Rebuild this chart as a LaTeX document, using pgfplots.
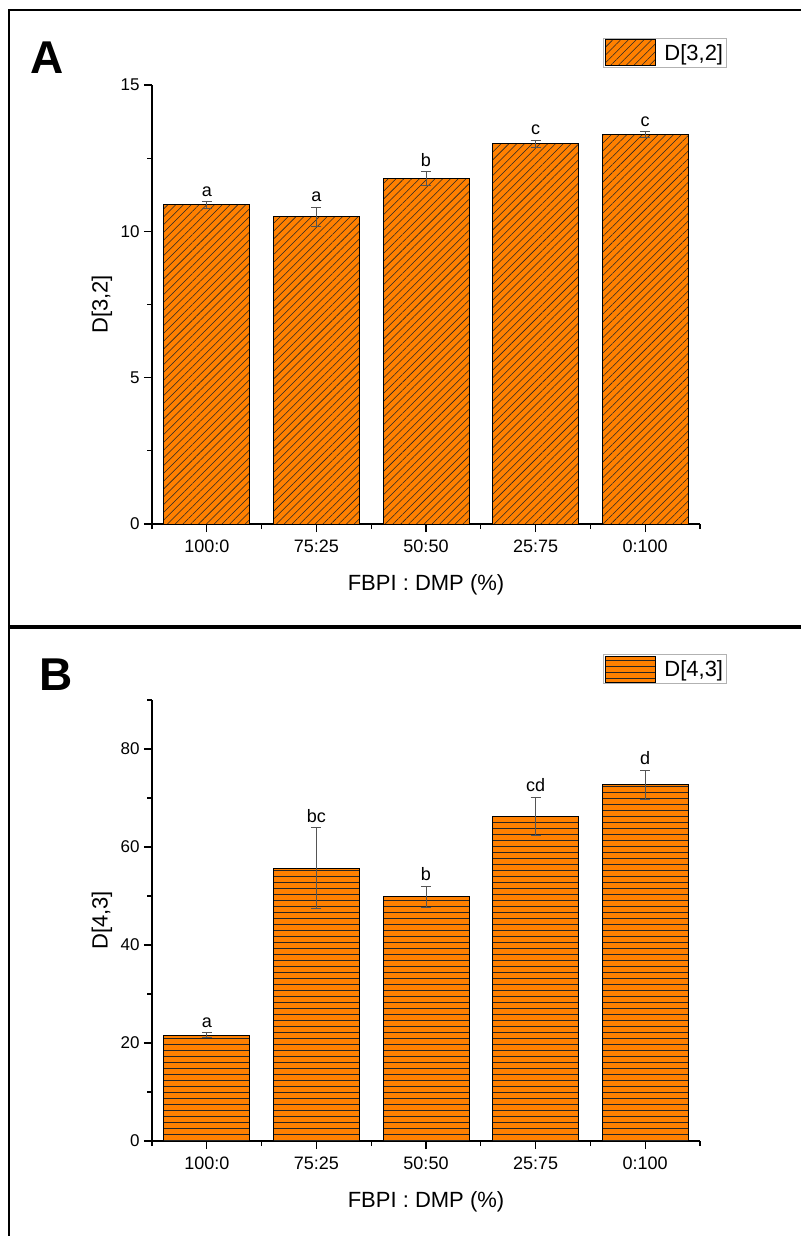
\documentclass[border=0pt]{standalone}
\usepackage{fontspec}
\setmainfont{Liberation Sans}
\usepackage{pgfplots}
\usepackage{pgfplotstable}
\pgfplotsset{compat=1.18}
\usetikzlibrary{patterns.meta}
\definecolor{barorange}{RGB}{255,128,0}
\definecolor{errgray}{RGB}{85,85,85}

\pgfplotstableread{
x val err lab
0 10.9 0.12 a
1 10.5 0.32 a
2 11.8 0.24 b
3 13.0 0.12 c
4 13.3 0.10 c
}\dataA
\pgfplotstableread{
x val err lab
0 21.6 0.5 a
1 55.7 8.3 bc
2 49.8 2.2 b
3 66.3 3.9 cd
4 72.7 3.0 d
}\dataB

\pgfplotsset{
  mystyle/.style={
    scale only axis, width=548pt,
    xmin=-0.5, xmax=4.5, ymin=0,
    enlargelimits=false,
    axis x line*=bottom, axis y line*=left,
    axis line style={-, line width=1.2pt, black},
    tick align=outside,
    major tick length=8pt, minor tick length=5pt,
    every tick/.style={black, line width=1.2pt},
    xtick={0,1,2,3,4},
    xticklabels={100:0,75:25,50:50,25:75,0:100},
    minor xtick={-0.5,0.5,1.5,2.5,3.5,4.5},
    xticklabel style={font=\fontsize{18}{18}\selectfont, yshift=-4pt},
    yticklabel style={font=\fontsize{17}{17}\selectfont, xshift=-1pt},
    /pgf/number format/assume math mode=true,
    xlabel={FBPI : DMP (\%)},
    xlabel style={font=\fontsize{22}{22}\selectfont, at={(axis description cs:0.5,0)}, anchor=base, yshift=-66pt},
    ylabel style={font=\fontsize{22}{22}\selectfont, at={(axis description cs:0,0.5)}, anchor=center, yshift=50pt},
    legend style={anchor=north west, draw=gray!60, line width=0.8pt,
      font=\fontsize{22}{22}\selectfont, inner xsep=1pt, inner ysep=1pt,
      nodes={inner sep=2pt}},
    legend cell align=left,
    legend image code/.code={\draw[##1] (0pt,-13pt) rectangle (50pt,13pt); \path[draw=none] (-1pt,0pt) (56pt,0pt);},
  },
  errstyle/.style={
    error bars/.cd, y dir=both, y explicit,
    error bar style={errgray, line width=0.8pt},
    error mark options={rotate=90, errgray, mark size=5pt, line width=0.8pt},
  },
  labstyle/.style={
    draw=none, mark=none, forget plot,
    nodes near coords, point meta=explicit symbolic,
    every node near coord/.append style={font=\fontsize{18}{18}\selectfont, anchor=south, inner sep=2pt, yshift=3pt},
  },
}

\begin{document}
\begin{tikzpicture}
\path[use as bounding box] (0pt,0pt) rectangle (800pt,-1236pt);
\draw[line width=2pt] (8.5pt,-1237pt) -- (8.5pt,-10pt) -- (801pt,-10pt);
\draw[line width=4.5pt] (8.5pt,-627pt) -- (801pt,-627pt);
\node[font=\bfseries\fontsize{46}{46}\selectfont, anchor=base west, inner sep=0pt] at (30pt,-74pt) {A};
\node[font=\bfseries\fontsize{46}{46}\selectfont, anchor=base west, inner sep=0pt] at (39pt,-690pt) {B};

\begin{axis}[mystyle, at={(152pt,-524pt)}, anchor=south west,
  height=439pt, ymax=15,
  ytick={0,5,10,15}, minor ytick={2.5,7.5,12.5},
  ylabel={D[3,2]},
  legend style={at={(0.823,1.107)}},
]
\addplot[ybar, bar width=86pt, fill=barorange, draw=black, line width=1pt,
  postaction={pattern={Lines[angle=45,distance=5.5pt,line width=0.55pt]}, pattern color=black!85},
  errstyle]
  table[x=x, y=val, y error=err] \dataA;
\addlegendentry{D[3,2]}
\addplot[labstyle] table[x=x, y expr=\thisrow{val}+\thisrow{err}, meta=lab] \dataA;
\end{axis}

\begin{axis}[mystyle, at={(152pt,-1141pt)}, anchor=south west,
  height=441pt, ymax=90,
  ytick={0,20,40,60,80}, minor ytick={10,30,50,70,90},
  ylabel={D[4,3]},
  legend style={at={(0.823,1.104)}},
]
\addplot[ybar, bar width=86pt, fill=barorange, draw=black, line width=1pt,
  postaction={pattern={Lines[angle=0,distance=6pt,line width=0.65pt]}, pattern color=black!85},
  errstyle]
  table[x=x, y=val, y error=err] \dataB;
\addlegendentry{D[4,3]}
\addplot[labstyle] table[x=x, y expr=\thisrow{val}+\thisrow{err}, meta=lab] \dataB;
\end{axis}
\end{tikzpicture}
\end{document}
